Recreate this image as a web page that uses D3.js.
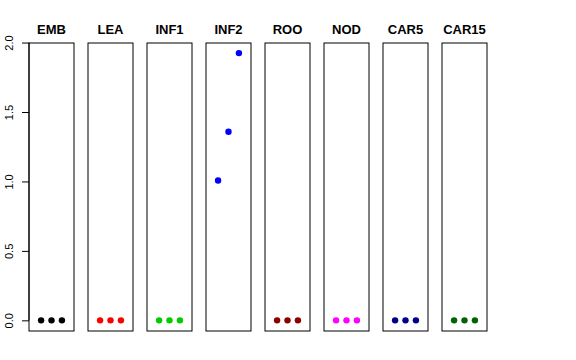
<!DOCTYPE html>
<html><head><meta charset="utf-8">
<script src="https://cdn.jsdelivr.net/npm/d3@7"></script>
<style>body{margin:0;background:#fff}svg{display:block}text{font-family:"Liberation Sans",Arial,sans-serif}</style>
</head><body>
<svg id="c" width="576" height="360"></svg>
<script>
const panels = ["EMB","LEA","INF1","INF2","ROO","NOD","CAR5","CAR15"];
const colors = ["#000000","#FF0000","#00CD00","#0000FF","#8B0000","#FF00FF","#00008B","#006400"];
const values = [
  [0,0,0],[0,0,0],[0,0,0],[1.007,1.358,1.924],[0,0,0],[0,0,0],[0,0,0],[0,0,0]
];
const yTicks = [0,0.5,1,1.5,2];
const yTickLabels = ["0.0","0.5","1.0","1.5","2.0"];

(function(){
const svg = d3.select("#c");
const pTop = 43, pBottom = 331, left0 = 29, pw = 45, step = 59;
const y = d3.scaleLinear().domain([-0.0768,1.9968]).range([pBottom, pTop]);
panels.forEach((p,i)=>{
  const x0 = left0 + i*step;
  const x = d3.scaleLinear().domain([-0.16,4.16]).range([x0, x0+pw]);
  const g = svg.append("g");
  g.append("rect").attr("x",x0).attr("y",pTop).attr("width",pw).attr("height",pBottom-pTop)
    .attr("fill","none").attr("stroke","#000").attr("stroke-width",1);
  g.selectAll("circle").data(values[i]).join("circle")
    .attr("cx",(d,j)=>x(j+1)).attr("cy",d=>y(d)).attr("r",3.2).attr("fill",colors[i]);
  g.append("text").attr("x",x0+pw/2).attr("y",34).attr("text-anchor","middle")
    .attr("font-weight","bold").attr("font-size",13).text(p);
});
const ax = svg.append("g").attr("transform",`translate(${left0},0)`)
  .call(d3.axisLeft(y).tickValues(yTicks).tickFormat((d,i)=>yTickLabels[i]).tickSize(7).tickPadding(4));
ax.select(".domain").attr("d",`M0,${y(0)}V${y(2)}`).attr("stroke","#000");
ax.selectAll(".tick line").attr("stroke","#000");
ax.selectAll(".tick text").each(function(){
  d3.select(this).attr("x",0).attr("y",0).attr("dy","0.35em")
    .attr("font-size",11).attr("fill","#000")
    .attr("font-family","Liberation Sans, Arial, sans-serif")
    .attr("text-anchor","middle")
    .attr("transform","translate(-20,0) rotate(-90)");
});
})();
</script>
</body></html>
